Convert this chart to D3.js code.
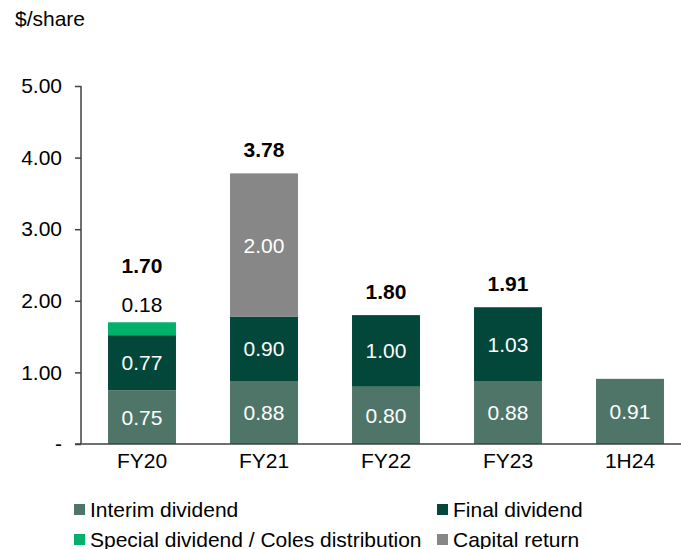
<!DOCTYPE html>
<html>
<head>
<meta charset="utf-8">
<script src="https://cdn.jsdelivr.net/npm/d3@7"></script>
<style>
  html, body { margin: 0; padding: 0; background: #ffffff; }
  svg { display: block; font-family: "Liberation Sans", Arial, sans-serif; }
</style>
</head>
<body>
<script>
const categories = ["FY20", "FY21", "FY22", "FY23", "1H24"];
const interim = [0.75, 0.88, 0.80, 0.88, 0.91];
const finalDiv = [0.77, 0.90, 1.00, 1.03, 0];
const special = [0.18, 0, 0, 0, 0];
const capital = [0, 2.00, 0, 0, 0];
const totals = ["1.70", "3.78", "1.80", "1.91", null];
const yTicks = [0, 1, 2, 3, 4, 5];
const yTickLabels = ["-", "1.00", "2.00", "3.00", "4.00", "5.00"];
const seriesNames = ["Interim dividend", "Final dividend", "Special dividend / Coles distribution", "Capital return"];
const seriesColors = ["#4f7569", "#03473a", "#00b06b", "#878787"];

const W = 681, H = 549;
const svg = d3.select("body").append("svg").attr("width", W).attr("height", H);

const x = d3.scaleBand().domain(categories).range([81, 691]).paddingInner(0.443).paddingOuter(0.2215);
const y = d3.scaleLinear().domain([0, 5]).range([444, 86]);
const axisColor = "#404040";
const fs = 21;

// stacked data
const keys = ["interim", "final", "special", "capital"];
const rows = categories.map((c, i) => ({cat: c, interim: interim[i], final: finalDiv[i], special: special[i], capital: capital[i]}));
const stacked = d3.stack().keys(keys)(rows);

stacked.forEach((layer, li) => {
  svg.append("g").selectAll("rect").data(layer).join("rect")
    .attr("x", d => x(d.data.cat))
    .attr("width", x.bandwidth())
    .attr("y", d => y(d[1]))
    .attr("height", d => y(d[0]) - y(d[1]))
    .attr("fill", seriesColors[li]);
});

// segment labels (white, inside)
const inside = ["interim", "final", "capital"];
stacked.forEach((layer, li) => {
  if (!inside.includes(keys[li])) return;
  svg.append("g").selectAll("text").data(layer.filter(d => d[1] - d[0] > 0)).join("text")
    .attr("x", d => x(d.data.cat) + x.bandwidth() / 2)
    .attr("y", d => y((d[0] + d[1]) / 2))
    .attr("dy", "0.36em")
    .attr("text-anchor", "middle")
    .attr("fill", "#ffffff")
    .attr("font-size", fs)
    .text(d => (d[1] - d[0]).toFixed(2));
});

// special label above bar (black)
const specLayer = stacked[2];
svg.append("g").selectAll("text").data(specLayer.filter(d => d[1] - d[0] > 0)).join("text")
  .attr("x", d => x(d.data.cat) + x.bandwidth() / 2)
  .attr("y", d => y(d[1]) - 10)
  .attr("text-anchor", "middle")
  .attr("fill", "#000000")
  .attr("font-size", fs)
  .text(d => (d[1] - d[0]).toFixed(2));

// totals (bold)
svg.append("g").selectAll("text").data(rows.map((r, i) => ({r, i})).filter(o => totals[o.i])).join("text")
  .attr("x", o => x(o.r.cat) + x.bandwidth() / 2)
  .attr("y", o => {
    const top = y(o.r.interim + o.r.final + o.r.special + o.r.capital);
    return o.r.special > 0 ? top - 49 : top - 16.5;
  })
  .attr("text-anchor", "middle")
  .attr("font-weight", "bold")
  .attr("fill", "#000000")
  .attr("font-size", fs)
  .text(o => totals[o.i]);

// y axis
const yAxis = svg.append("g").attr("transform", "translate(81,0)")
  .call(d3.axisLeft(y).tickValues(yTicks).tickFormat((d, i) => yTickLabels[i]).tickSize(6).tickSizeOuter(0).tickPadding(13));
yAxis.selectAll("path, line").attr("stroke", axisColor).attr("stroke-width", 1.5);
yAxis.selectAll("text").attr("font-size", fs).attr("fill", "#000000").attr("font-family", "Liberation Sans, Arial, sans-serif");
yAxis.select(".domain").remove();
yAxis.append("line").attr("x1", 0).attr("x2", 0).attr("y1", y(5)).attr("y2", y(0)).attr("stroke", axisColor).attr("stroke-width", 1.5);

// x axis
const xAxis = svg.append("g").attr("transform", "translate(0,444)")
  .call(d3.axisBottom(x).tickSize(0).tickPadding(9));
xAxis.select(".domain").remove();
xAxis.append("line").attr("x1", 75).attr("x2", W).attr("y1", 0).attr("y2", 0).attr("stroke", axisColor).attr("stroke-width", 1.5);
xAxis.selectAll("text").attr("font-size", fs).attr("fill", "#000000").attr("font-family", "Liberation Sans, Arial, sans-serif");

// unit label
svg.append("text").attr("x", 15).attr("y", 26).attr("font-size", fs).attr("fill", "#000000").text("$/share");

// legend
const legendPos = [[74, 504], [437, 504], [74, 534], [437, 534]];
seriesNames.forEach((name, i) => {
  const [lx, ly] = legendPos[i];
  svg.append("rect").attr("x", lx).attr("y", ly).attr("width", 11).attr("height", 11).attr("fill", seriesColors[i]);
  svg.append("text").attr("x", lx + 16).attr("y", ly + 12.5).attr("font-size", fs).attr("fill", "#000000").text(name);
});
</script>
</body>
</html>
